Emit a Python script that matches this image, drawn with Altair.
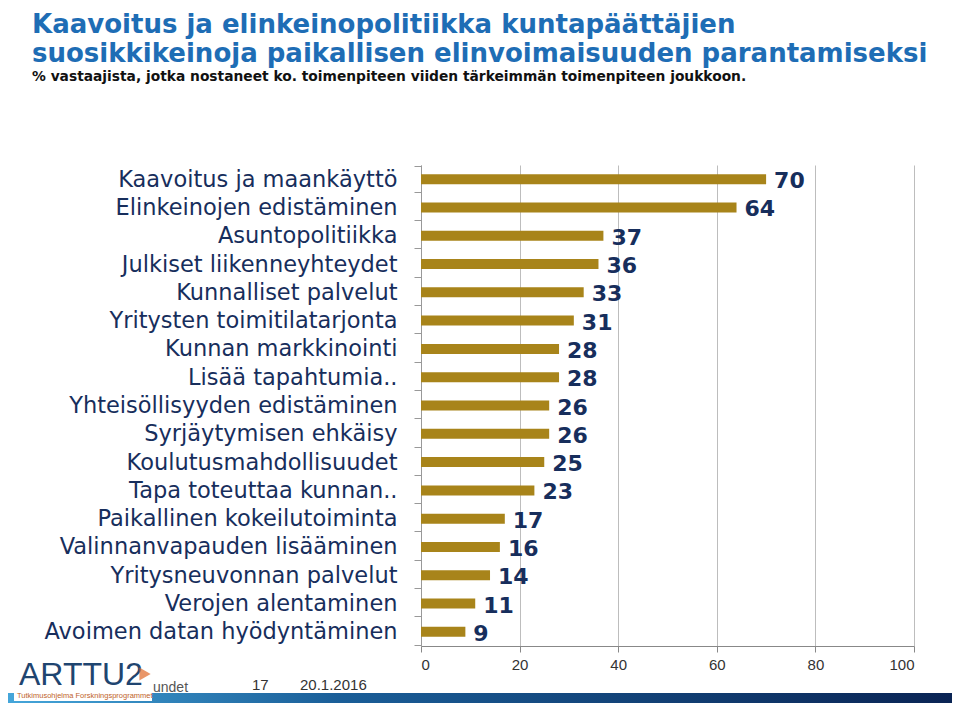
import altair as alt
import pandas as pd

categories = ["Kaavoitus ja maankäyttö", "Elinkeinojen edistäminen", "Asuntopolitiikka",
              "Julkiset liikenneyhteydet", "Kunnalliset palvelut", "Yritysten toimitilatarjonta",
              "Kunnan markkinointi", "Lisää tapahtumia..", "Yhteisöllisyyden edistäminen",
              "Syrjäytymisen ehkäisy", "Koulutusmahdollisuudet", "Tapa toteuttaa kunnan..",
              "Paikallinen kokeilutoiminta", "Valinnanvapauden lisääminen", "Yritysneuvonnan palvelut",
              "Verojen alentaminen", "Avoimen datan hyödyntäminen"]
values = [70, 64, 37, 36, 33, 31, 28, 28, 26, 26, 25, 23, 17, 16, 14, 11, 9]
x_ticks = [0, 20, 40, 60, 80, 100]

title_lines = ["Kaavoitus ja elinkeinopolitiikka kuntapäättäjien",
               "suosikkikeinoja paikallisen elinvoimaisuuden parantamiseksi"]
subtitle = "% vastaajista, jotka nostaneet ko. toimenpiteen viiden tärkeimmän toimenpiteen joukkoon."
footer_page = "17"
footer_date = "20.1.2016"

df = pd.DataFrame({"cat": categories, "val": values})

BAR = "#A8841A"
NAVY = "#172E5C"
BLUE = "#1E6DB5"

# plot origin in page coords: (421, 165)
def px(x):
    return x - 421

def py(y):
    return y - 165

bars = alt.Chart(df).mark_bar(color=BAR, size=10).encode(
    y=alt.Y("cat:N", sort=categories, title=None,
            axis=alt.Axis(labelFontSize=22.5, labelFont="DejaVu Sans", labelColor=NAVY,
                          labelLimit=500, tickBand="extent", tickSize=7, tickColor="#999",
                          domainColor="#999", labelPadding=17, grid=False)),
    x=alt.X("val:Q", title=None, scale=alt.Scale(domain=[0, 100], nice=False),
            axis=alt.Axis(values=x_ticks, grid=True, gridColor="#BDBDBD", domainColor="#888",
                          tickColor="#888", tickSize=6, labelFontSize=15, labelFont="Liberation Sans",
                          labelColor="#333", labelPadding=5)),
)

labels = alt.Chart(df).mark_text(align="left", baseline="middle", dx=8, dy=2, fontSize=22,
                                 fontWeight="bold", font="DejaVu Sans", color=NAVY).encode(
    y=alt.Y("cat:N", sort=categories),
    x="val:Q",
    text="val:Q",
)

def txt(t, x, y, **kw):
    return alt.Chart(pd.DataFrame({"t": [t]})).mark_text(align="left", baseline="alphabetic", **kw).encode(
        text="t:N", x=alt.value(px(x)), y=alt.value(py(y)))

title1 = txt(title_lines[0], 32, 33, fontSize=26, fontWeight="bold", font="DejaVu Sans", color=BLUE)
title2 = txt(title_lines[1], 32, 62, fontSize=26, fontWeight="bold", font="DejaVu Sans", color=BLUE)
sub = txt(subtitle, 32, 81, fontSize=13.8, fontWeight="bold", font="DejaVu Sans", color="#111")

band = alt.Chart(pd.DataFrame({"a": [1]})).mark_rect(
    color=alt.LinearGradient(gradient="linear", x1=0, x2=1, y1=0, y2=0,
                             stops=[alt.GradientStop(offset=0, color="#45A6DA"),
                                    alt.GradientStop(offset=0.35, color="#1A5E98"),
                                    alt.GradientStop(offset=1, color="#0A2454")])
).encode(x=alt.value(px(8)), x2=alt.value(px(952)), y=alt.value(py(693)), y2=alt.value(py(703)))

logo_box = alt.Chart(pd.DataFrame({"a": [1]})).mark_rect(color="white").encode(
    x=alt.value(px(14)), x2=alt.value(px(152)), y=alt.value(py(689)), y2=alt.value(py(701)))
logo = txt("ARTTU2", 19, 685, fontSize=32, font="Liberation Sans", color="#1F4570")
sail = alt.Chart(pd.DataFrame({"a": [1]})).mark_point(shape="triangle-right", filled=True,
                                                      color="#E06A2A", size=170).encode(
    x=alt.value(px(145)), y=alt.value(py(674)))
logo_sub = txt("Tutkimusohjelma  Forskningsprogrammet", 17, 698, fontSize=7.5, font="Liberation Sans",
               color="#C0632A")
undet = txt("undet", 153, 692, fontSize=14, font="Liberation Sans", color="#555")
page = txt(footer_page, 252, 690, fontSize=15, font="Liberation Sans", color="#333")
date = txt(footer_date, 300, 690, fontSize=15, font="Liberation Sans", color="#333")

chart = alt.layer(bars, labels, title1, title2, sub, band, logo_box, logo, sail, logo_sub,
                  undet, page, date).properties(
    width=493, height=481,
    autosize=alt.AutoSizeParams(type="none"),
    padding={"left": 413, "top": 157, "right": 38, "bottom": 57},
    background="white",
).configure_view(stroke=None)

chart.save("out.html", embed_options={"renderer": "svg", "actions": False})
